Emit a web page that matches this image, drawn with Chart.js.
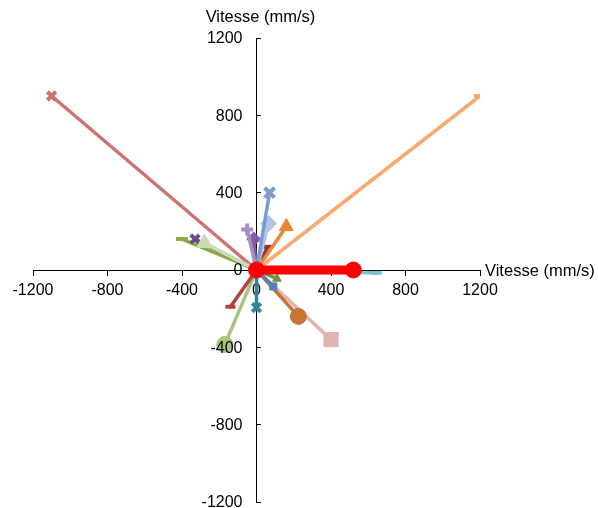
<!DOCTYPE html>
<html>
<head>
<meta charset="utf-8">
<script src="https://cdn.jsdelivr.net/npm/chart.js@4"></script>
<style>
  html, body { margin: 0; padding: 0; background: #fff; overflow: hidden; }
  #wrap { width: 598px; height: 513px; position: relative; }
</style>
</head>
<body>
<div id="wrap"><canvas id="chart"></canvas></div>
<script>
// ─── DATA ─────────────────────────────────────────────
const axisTitle = 'Vitesse (mm/s)';
const tickValues = [-1200, -800, -400, 0, 400, 800, 1200];

// end points of each speed vector (all start at the origin)
const endX = [520, -280, -1100, 1200, 645, 70, 65, 160, -50, -15, 60, -330, -400, 110, 90, 225, 400, -140, -170, 0];
const endY = [0, 140, 900, 900, -15, 400, 240, 225, 210, 160, 120, 160, 160, -45, -85, -240, -360, -190, -385, -195];

// ─── STYLES ───────────────────────────────────────────
const colors  = ['#FF0000', '#C9DCB3', '#CC7472', '#F9A86F', '#7DBFD5', '#7A9BCE', '#B3C5E2', '#E8873A', '#A48FC4', '#7E5DA0',
                 '#953735', '#664D87', '#86AE3E', '#77933C', '#4F81BD', '#C87533', '#DFB4B3', '#B8403C', '#A9C47F', '#31849B'];
const markers = ['circle', 'triangle', 'crossRot', 'line', 'line', 'crossRot', 'rectRot', 'triangle', 'cross', 'rectRot',
                 'line', 'crossRot', 'line', 'triangle', 'rect', 'circle', 'rect', 'line', 'circle', 'crossRot'];
const sizes   = [8, 9, 6, 6, 5, 7, 8, 8, 6, 7, 5, 6, 6, 5, 5, 8, 10, 5, 8, 6];
const widths  = [9, 4, 3.5, 3.5, 3.5, 3.5, 3.5, 3.5, 3.5, 3.5, 3.5, 3.5, 3.5, 3.5, 3.5, 3.5, 3.5, 3.5, 3.5, 3.5];

const TICK_FONT  = { family: '"Liberation Sans", Arial, sans-serif', size: 16 };
const TITLE_FONT = '16.5px "Liberation Sans", Arial, sans-serif';

const datasets = endX.map((x, i) => ({
  data: [{ x: 0, y: 0 }, { x, y: endY[i] }],
  showLine: true,
  borderColor: colors[i],
  backgroundColor: colors[i],
  borderWidth: widths[i],
  borderCapStyle: 'round',
  pointStyle: markers[i],
  pointRadius: i === 0 ? [sizes[i], sizes[i]] : [0, sizes[i]],
  pointBorderWidth: (markers[i] === 'crossRot' || markers[i] === 'cross' || markers[i] === 'line') ? 4 : 1,
  pointBorderColor: colors[i],
  pointBackgroundColor: colors[i],
  pointHoverRadius: 0,
}));

// titres d'axes + étiquettes de l'axe vertical (à gauche de l'axe central)
const axisText = {
  id: 'axisText',
  afterDraw(chart) {
    const { ctx, scales } = chart;
    const x0 = scales.x.getPixelForValue(0);
    const y0 = scales.y.getPixelForValue(0);
    ctx.save();
    ctx.fillStyle = '#000';
    ctx.font = `${TICK_FONT.size}px ${TICK_FONT.family}`;
    ctx.textAlign = 'right';
    ctx.textBaseline = 'middle';
    scales.y.ticks.forEach(t => {
      ctx.fillText(String(t.value), x0 - 14, scales.y.getPixelForValue(t.value) + 1);
    });
    ctx.font = TITLE_FONT;
    ctx.textAlign = 'center';
    ctx.fillText(axisTitle, x0 + 4, 17);
    ctx.textAlign = 'left';
    ctx.fillText(axisTitle, scales.x.right + 5, y0 + 1);
    ctx.restore();
  },
};

const axisCommon = {
  type: 'linear',
  min: -1200,
  max: 1200,
  afterBuildTicks: axis => { axis.ticks = tickValues.map(v => ({ value: v })); },
  border: { display: true, color: '#000', width: 1 },
};

new Chart(document.getElementById('chart'), {
  type: 'scatter',
  data: { datasets },
  plugins: [axisText],
  options: {
    responsive: true,
    maintainAspectRatio: false,
    animation: false,
    events: [],
    layout: { padding: { left: 33, right: 118, top: 38, bottom: 0 } },
    plugins: { legend: { display: false }, tooltip: { enabled: false } },
    scales: {
      x: {
        ...axisCommon,
        position: { y: 0 },
        grid: { display: true, drawOnChartArea: false, drawTicks: true, tickLength: 5, color: '#000' },
        ticks: { color: '#000', font: TICK_FONT, padding: 6, autoSkip: false, maxRotation: 0, callback: v => String(v) },
      },
      y: {
        ...axisCommon,
        position: { x: 0 },
        grid: { display: true, drawOnChartArea: false, drawTicks: true, tickLength: -5, color: '#000' },
        ticks: { display: false },
      },
    },
  },
});
</script>
</body>
</html>
